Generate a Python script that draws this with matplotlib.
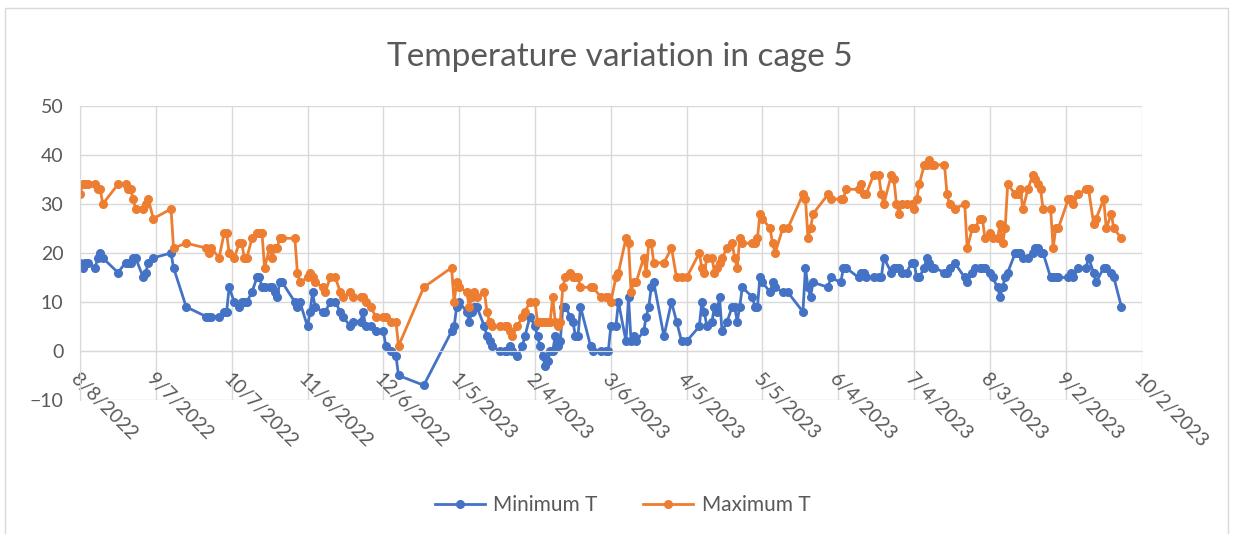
from datetime import date, timedelta
import matplotlib.pyplot as plt
from matplotlib.patches import Rectangle

plt.rcParams['font.family'] = ['Lato', 'DejaVu Sans']

start = date(2022, 8, 8)

# days since 8/8/2022, daily minimum and maximum in cage 5
day_offsets = [0, 1, 2, 3, 6, 7, 8, 9, 15, 18, 19, 20, 21, 22, 25, 26, 27, 29, 36, 37,
               42, 50, 51, 52, 55, 57, 58, 59, 61, 63, 64, 65, 66, 68, 70, 71, 72, 73, 75, 76,
               77, 78, 79, 80, 85, 86, 87, 90, 91, 92, 93, 96, 97, 99, 101, 103, 104, 107, 108, 111,
               112, 113, 115, 117, 120, 121, 123, 125, 126, 136, 147, 148, 149, 150, 153, 154, 155, 156, 157, 160,
               161, 162, 163, 166, 168, 169, 170, 171, 173, 175, 176, 178, 180, 181, 182, 183, 184, 185, 186, 187,
               188, 189, 190, 191, 192, 194, 195, 196, 197, 198, 202, 203, 206, 208, 209, 210, 212, 213, 216, 217,
               218, 219, 220, 223, 224, 225, 226, 227, 231, 234, 236, 238, 240, 245, 246, 247, 248, 250, 251, 252,
               253, 254, 256, 258, 259, 260, 261, 262, 266, 267, 268, 269, 270, 273, 274, 275, 278, 280, 286, 287,
               288, 289, 290, 296, 297, 301, 302, 303, 308, 309, 310, 311, 314, 316, 317, 318, 321, 322, 323, 324,
               325, 327, 329, 330, 331, 332, 334, 335, 336, 337, 338, 342, 343, 344, 346, 350, 351, 353, 354, 356,
               357, 358, 360, 361, 363, 364, 365, 366, 367, 370, 371, 372, 373, 375, 377, 378, 379, 380, 381, 384,
               385, 386, 387, 391, 392, 393, 395, 398, 399, 401, 402, 405, 406, 408, 409, 412]

min_t = [18, 17, 18, 18, 17, 19, 20, 19, 16, 18, 18, 18, 19, 19, 15, 16, 18, 19, 20, 17,
         9, 7, 7, 7, 7, 8, 8, 13, 10, 9, 10, 10, 10, 12, 15, 15, 13, 13, 13, 13,
         12, 11, 14, 14, 10, 9, 10, 5, 8, 12, 9, 8, 8, 10, 10, 8, 7, 5, 6, 6,
         8, 5, 5, 4, 4, 1, 0, -1, -5, -7, 4, 5, 9, 10, 8, 6, 8, 9, 9, 5,
         3, 2, 1, 0, 0, 0, 1, 0, -1, 1, 3, 7, 5, 3, 1, -1, -3, -2, 0, 0,
         3, 1, 2, 9, 9, 7, 6, 3, 3, 9, 1, 0, 0, 0, 0, 5, 5, 10, 2, 11,
         2, 3, 2, 4, 7, 9, 13, 14, 3, 10, 6, 2, 2, 5, 10, 8, 5, 6, 9, 8,
         11, 4, 6, 9, 9, 6, 9, 13, 11, 9, 9, 15, 14, 12, 14, 13, 12, 12, 8, 17,
         13, 11, 14, 13, 15, 14, 17, 17, 15, 16, 16, 15, 15, 15, 15, 19, 16, 17, 17, 17,
         16, 16, 18, 18, 15, 15, 17, 19, 18, 17, 17, 16, 16, 17, 18, 15, 14, 16, 17, 17,
         17, 17, 16, 15, 13, 11, 13, 15, 16, 20, 20, 20, 19, 19, 20, 21, 21, 20, 20, 15,
         15, 15, 15, 15, 16, 15, 17, 17, 19, 16, 14, 17, 17, 16, 15, 9]

max_t = [32, 34, 34, 34, 34, 33, 33, 30, 34, 34, 33, 33, 31, 29, 29, 30, 31, 27, 29, 21,
         22, 21, 20, 21, 19, 24, 24, 20, 19, 22, 22, 19, 19, 23, 24, 24, 24, 17, 21, 19,
         21, 21, 23, 23, 23, 16, 14, 15, 16, 15, 14, 13, 12, 15, 15, 12, 11, 12, 11, 11,
         11, 10, 9, 7, 7, 7, 6, 6, 1, 13, 17, 10, 14, 13, 12, 9, 11, 12, 11, 12,
         8, 6, 5, 5, 5, 5, 4, 3, 5, 7, 8, 10, 10, 6, 6, 6, 6, 6, 6, 11,
         6, 5, 6, 13, 15, 16, 15, 15, 15, 13, 13, 13, 11, 11, 11, 10, 15, 16, 23, 22,
         12, 14, 14, 19, 16, 22, 22, 18, 18, 21, 15, 15, 15, 20, 17, 16, 19, 19, 16, 17,
         18, 19, 21, 22, 19, 17, 23, 22, 22, 22, 23, 28, 27, 25, 22, 20, 25, 25, 32, 31,
         23, 25, 28, 32, 31, 31, 31, 33, 33, 34, 32, 32, 36, 36, 32, 30, 36, 35, 30, 28,
         30, 30, 30, 29, 31, 34, 38, 38, 39, 38, 38, 38, 32, 30, 29, 30, 21, 25, 25, 27,
         27, 23, 24, 23, 23, 26, 22, 25, 34, 32, 32, 33, 29, 33, 36, 35, 34, 33, 29, 29,
         21, 25, 25, 31, 31, 30, 32, 33, 33, 26, 27, 31, 25, 28, 25, 23]

dates = [start + timedelta(days=d) for d in day_offsets]
tick_dates = [start + timedelta(days=30 * k) for k in range(15)]
tick_labels = [f"{d.month}/{d.day}/{d.year}" for d in tick_dates]

text_col = '#595959'
grid_col = '#d9d9d9'

fig = plt.figure(figsize=(12.33, 5.34), dpi=100)
fig.patches.append(Rectangle((0.004, -0.01), 0.992, 0.995, transform=fig.transFigure,
                             fill=False, edgecolor=grid_col, lw=1))

ax = fig.add_axes([0.0649, 0.251, 0.861, 0.5505])
ax.plot(dates, min_t, color='#4472C4', lw=2.0, marker='o', ms=5.5, label='Minimum T')
ax.plot(dates, max_t, color='#ED7D31', lw=2.0, marker='o', ms=5.5, label='Maximum T')

# horizontal axis sits on the zero line, like the spreadsheet default
for side in ['top', 'right']:
    ax.spines[side].set_visible(False)
ax.spines['left'].set_color(grid_col)
ax.spines['bottom'].set_color(grid_col)
ax.spines['bottom'].set_position(('data', 0))

ax.set_ylim(-10, 50)
ax.set_yticks(range(-10, 51, 10))
ax.set_xlim(tick_dates[0], tick_dates[-1])
ax.set_xticks(tick_dates)
ax.set_xticklabels(tick_labels, rotation=-45, ha='left', va='top', rotation_mode='anchor')

ax.grid(True, color=grid_col, lw=1)
ax.set_axisbelow(True)
ax.tick_params(axis='x', length=0, pad=14, labelsize=14, labelcolor=text_col)
ax.tick_params(axis='y', length=0, pad=12, labelsize=14, labelcolor=text_col)

fig.text(0.503, 1 - 57 / 534, 'Temperature variation in cage 5', ha='center', va='center',
         fontsize=24, color=text_col)

fig.legend(loc='center', bbox_to_anchor=(0.505, 1 - 505 / 534), ncol=2, frameon=False,
           fontsize=15, labelcolor=text_col, handlelength=2.4, handletextpad=0.4,
           columnspacing=2.2)

fig.savefig('out.png', dpi=100)
